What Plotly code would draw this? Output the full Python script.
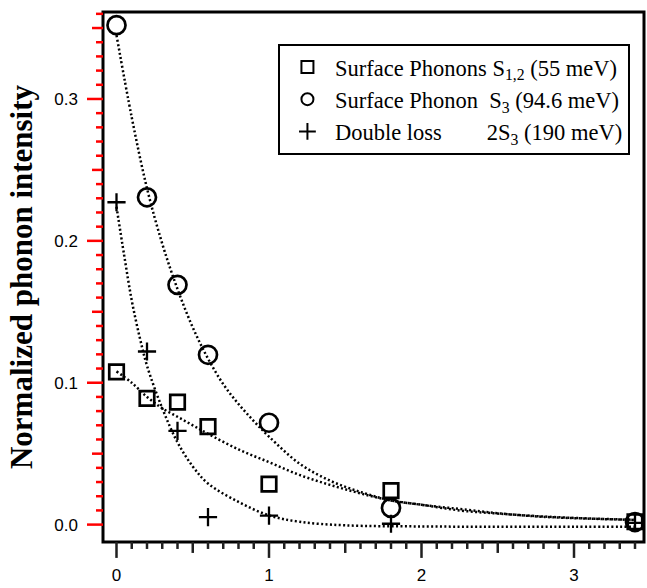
import plotly.graph_objects as go

# ---- data ----
x_pts = [0.0, 0.2, 0.4, 0.6, 1.0, 1.8, 3.4]
sq_vals = [0.1076, 0.089, 0.0863, 0.069, 0.0286, 0.024, 0.0020]
circ_vals = [0.352, 0.2307, 0.169, 0.1197, 0.0718, 0.0118, 0.0018]
cross_x = [0.0, 0.2, 0.4, 0.6, 1.0, 1.8, 3.4]
cross_vals = [0.2272, 0.122, 0.066, 0.0053, 0.0064, 0.0006, 0.0012]

# dotted fit curves
fit_circ_x = [0.0, 0.1, 0.2, 0.3, 0.4, 0.5, 0.6, 0.7, 0.8, 0.9, 1.0, 1.2, 1.4, 1.6, 1.8, 2.0, 2.25, 2.5, 2.8, 3.1, 3.4]
fit_circ_y = [0.345, 0.287, 0.237, 0.198, 0.166, 0.139, 0.117, 0.099, 0.085, 0.073, 0.062, 0.043, 0.031, 0.023, 0.017, 0.014, 0.011, 0.008, 0.0055, 0.0042, 0.0033]
fit_sq_x = [0.0, 0.1, 0.2, 0.3, 0.4, 0.5, 0.6, 0.8, 1.0, 1.2, 1.4, 1.6, 1.8, 2.0, 2.25, 2.5, 2.8, 3.1, 3.4]
fit_sq_y = [0.108, 0.100, 0.090, 0.082, 0.076, 0.070, 0.064, 0.053, 0.044, 0.035, 0.028, 0.022, 0.017, 0.014, 0.010, 0.0078, 0.0057, 0.0043, 0.0034]
fit_cr_x = [0.0, 0.05, 0.1, 0.15, 0.2, 0.3, 0.4, 0.5, 0.6, 0.8, 1.0, 1.2, 1.5, 2.0, 2.5, 3.0, 3.4]
fit_cr_y = [0.224, 0.190, 0.158, 0.133, 0.112, 0.082, 0.058, 0.041, 0.029, 0.016, 0.0065, 0.002, -0.0005, -0.0013, -0.0015, -0.0015, -0.0015]

names = [
    "Surface Phonons S<sub>1,2</sub> (55 meV)",
    "Surface Phonon\u00a0 S<sub>3</sub> (94.6 meV)",
    "Double loss\u00a0\u00a0\u00a0\u00a0\u00a0\u00a0\u00a0 2S<sub>3</sub> (190 meV)",
]

# tick values and labels
x_tickvals = [0, 1, 2, 3]
x_ticktext = ["0", "1", "2", "3"]
y_tickvals = [0.0, 0.1, 0.2, 0.3]
y_ticktext = ["0.0", "0.1", "0.2", "0.3"]
x_minor_ticks = [i / 10 for i in range(35)]      # every 0.1 (0 .. 3.4)
y_minor_ticks = [i / 100 for i in range(37)]     # every 0.01 (0 .. 0.36)

x_range = [-0.0885, 3.459]
y_range = [-0.01226, 0.3613]

W_PLOT = 647 - 103 - 3
H_PLOT = 588 - 12 - 43

fig = go.Figure()

dot = "2px,2.4px"
for fx, fy in [(fit_circ_x, fit_circ_y), (fit_sq_x, fit_sq_y), (fit_cr_x, fit_cr_y)]:
    fig.add_trace(go.Scatter(x=fx, y=fy, mode="lines", showlegend=False,
                             line=dict(color="black", width=2.5, dash=dot, shape="spline", smoothing=1.0),
                             hoverinfo="skip"))

fig.add_trace(go.Scatter(x=x_pts, y=sq_vals, mode="markers", name=names[0],
                         marker=dict(symbol="square-open", size=14.5, color="black",
                                     line=dict(color="black", width=2.7))))
fig.add_trace(go.Scatter(x=x_pts, y=circ_vals, mode="markers", name=names[1],
                         marker=dict(symbol="circle-open", size=18, color="black",
                                     line=dict(color="black", width=2.7))))
fig.add_trace(go.Scatter(x=cross_x, y=cross_vals, mode="markers", name=names[2],
                         marker=dict(symbol="cross-thin-open", size=13, color="black",
                                     line=dict(color="black", width=2.3))))

shapes = [dict(type="rect", xref="paper", yref="paper", x0=0, x1=1, y0=0, y1=1,
               line=dict(color="black", width=3), fillcolor="rgba(0,0,0,0)", layer="above")]


def tick_len(v, half):
    k = round(v / half)
    if abs(v - k * half) > 1e-9:
        return 7
    return 16 if k % 2 == 0 else 11


def x_to_paper(v):
    return (v - x_range[0]) / (x_range[1] - x_range[0])


def y_to_paper(v):
    return (v - y_range[0]) / (y_range[1] - y_range[0])


TICK_X_COLOR = "#202020"
TICK_Y_COLOR = "red"

for v in x_minor_ticks:
    L = tick_len(v, 0.5)
    p = x_to_paper(v)
    shapes.append(dict(type="line", xref="paper", yref="paper", x0=p, x1=p, y0=0, y1=-L / H_PLOT,
                       line=dict(color=TICK_X_COLOR, width=2.5), layer="above"))
for v in y_minor_ticks:
    L = tick_len(v, 0.05)
    p = y_to_paper(v)
    shapes.append(dict(type="line", xref="paper", yref="paper", x0=0, x1=-L / W_PLOT, y0=p, y1=p,
                       line=dict(color=TICK_Y_COLOR, width=2.5), layer="above"))

tickfont = dict(family="Liberation Sans, Arial", size=17, color="black")

fig.update_layout(
    width=647, height=588,
    margin=dict(l=103, r=3, t=12, b=43),
    paper_bgcolor="white", plot_bgcolor="white",
    showlegend=True,
    legend=dict(x=0.974, y=0.94, xanchor="right", yanchor="top",
                bordercolor="black", borderwidth=2, bgcolor="white",
                font=dict(family="Liberation Serif, Times New Roman", size=22.5, color="black"),
                itemsizing="constant", itemwidth=45, tracegroupgap=0),
    xaxis=dict(range=x_range, tickmode="array", tickvals=x_tickvals, ticktext=x_ticktext,
               ticks="", ticklabelstandoff=21, tickfont=tickfont,
               showgrid=False, zeroline=False, showline=False),
    yaxis=dict(range=y_range, tickmode="array", tickvals=y_tickvals, ticktext=y_ticktext,
               ticks="", ticklabelstandoff=24, tickfont=tickfont,
               showgrid=False, zeroline=False, showline=False,
               title=dict(text="<b>Normalized phonon intensity</b>",
                          font=dict(family="Liberation Serif, Times New Roman", size=31, color="black"),
                          standoff=12)),
    shapes=shapes,
)

fig.write_html("out.html")
